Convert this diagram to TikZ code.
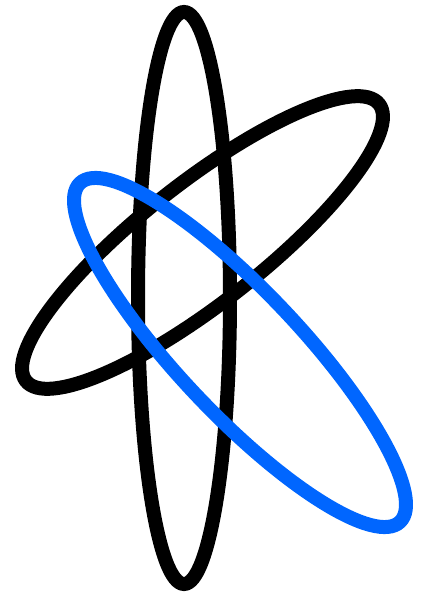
\documentclass[tikz,border=0pt]{standalone}
\definecolor{ringblue}{RGB}{0,102,255}
\tikzset{ring/.style={line width=14pt}}
\begin{document}
\begin{tikzpicture}[x=1pt,y=1pt]
\useasboundingbox (0,0) rectangle (427,595);
\draw[ring,black] (184,297) ellipse [x radius=46, y radius=286];
\draw[ring,black,rotate around={38.1:(202.5,352.5)}] (202.5,352.5) ellipse [x radius=224.4, y radius=60];
\draw[ring,ringblue,rotate around={-46.65:(240,242.5)}] (240,242.5) ellipse [x radius=233, y radius=61];
\end{tikzpicture}
\end{document}
